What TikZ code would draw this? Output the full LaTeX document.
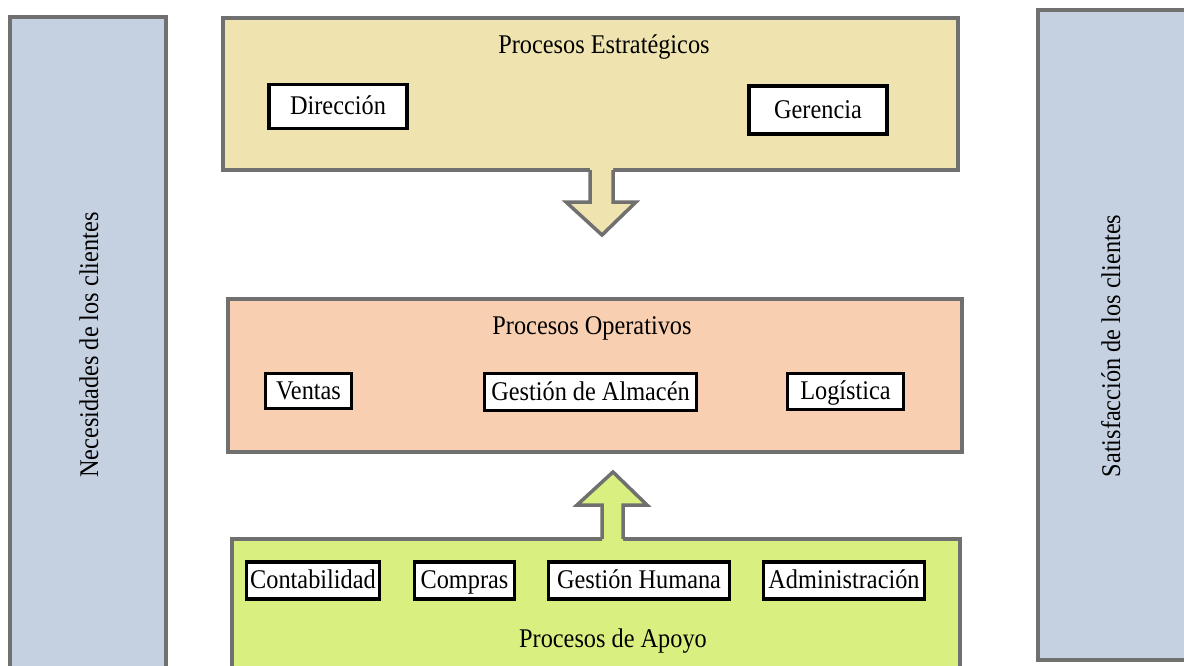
\documentclass[tikz,border=0pt]{standalone}
\usepackage{fontspec}
\setmainfont{Liberation Serif}[FakeStretch=0.9]
\definecolor{panelblue}{RGB}{197,208,225}
\definecolor{stratyellow}{RGB}{239,228,175}
\definecolor{operpeach}{RGB}{249,207,177}
\definecolor{apoyogreen}{RGB}{217,240,128}
\definecolor{bordergray}{RGB}{112,112,112}
\tikzset{
  bigpanel/.style={draw=bordergray, line width=4pt},
  procbox/.style={draw=black, line width=3.5pt, fill=white, inner sep=0pt, text height=20pt, text depth=4pt, font=\fontsize{27}{32}\selectfont},
  labeltext/.style={inner sep=0pt, text height=20pt, text depth=4pt, font=\fontsize{27}{32}\selectfont},
  arrowshape/.style={draw=bordergray, line width=3.5pt, line join=miter}
}
\begin{document}
\begin{tikzpicture}[x=1pt,y=-1pt]
\useasboundingbox (0,0) rectangle (1184,665);
\fill[white] (0,0) rectangle (1184,665);
% side panels
\draw[bigpanel, fill=panelblue] (10,17) rectangle (166,680);
\draw[bigpanel, fill=panelblue] (1038,10) rectangle (1200,660);
\node[labeltext, rotate=90] (nec) at (90,345) {Necesidades de los clientes};
\node[labeltext, rotate=90] (sat) at (1112,346) {Satisfacción de los clientes};
% strategic
\draw[bigpanel, fill=stratyellow] (223,18) rectangle (958,170);
\fill[stratyellow] (590,165) -- (590,202) -- (566,202) -- (602,235) -- (636,202) -- (613,202) -- (613,165) -- cycle;
\draw[arrowshape] (590,170) -- (590,202) -- (566,202) -- (602,235) -- (636,202) -- (613,202) -- (613,170);
\node[labeltext] (estr) at (604,45) {Procesos Estratégicos};
\node[procbox, minimum width=138pt, minimum height=44pt] (dir) at (338,106.5) {Dirección};
\node[procbox, minimum width=138pt, minimum height=48pt] (ger) at (818,110) {Gerencia};
% operative
\draw[bigpanel, fill=operpeach] (228,299) rectangle (962,452);
\node[labeltext] (oper) at (592,326) {Procesos Operativos};
\node[procbox, minimum width=86pt, minimum height=35pt] (ven) at (308.5,391) {Ventas};
\node[procbox, minimum width=212pt, minimum height=37pt] (alm) at (590.5,392) {Gestión de Almacén};
\node[procbox, minimum width=116pt, minimum height=36pt] (log) at (845.5,391.5) {Logística};
% support
\draw[bigpanel, fill=apoyogreen] (232,539) rectangle (960,680);
\fill[apoyogreen] (602,544) -- (602,505) -- (577,505) -- (613,472) -- (647,505) -- (623,505) -- (623,544) -- cycle;
\draw[arrowshape] (602,539) -- (602,505) -- (577,505) -- (613,472) -- (647,505) -- (623,505) -- (623,539);
\node[procbox, minimum width=133pt, minimum height=37pt] (cont) at (313,580.5) {Contabilidad};
\node[procbox, minimum width=100pt, minimum height=37pt] (comp) at (464.5,580.5) {Compras};
\node[procbox, minimum width=181pt, minimum height=37pt] (gh) at (639,580.5) {Gestión Humana};
\node[procbox, minimum width=161pt, minimum height=37pt] (adm) at (844,580.5) {Administración};
\node[labeltext] (apoyo) at (613,639) {Procesos de Apoyo};
\end{tikzpicture}
\end{document}
